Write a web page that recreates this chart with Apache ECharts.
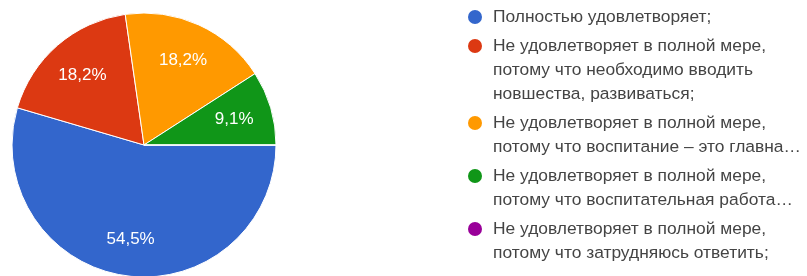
<!DOCTYPE html>
<html>
<head>
<meta charset="utf-8">
<script src="https://cdn.jsdelivr.net/npm/echarts@6/dist/echarts.min.js"></script>
<style>
  html, body { margin: 0; padding: 0; background: #fff; }
  #chart { width: 807px; height: 276px; }
</style>
</head>
<body>
<div id="chart"></div>
<script>
// ответы (строки легенды через \n)
const categories = [
    'Полностью удовлетворяет;',
    'Не удовлетворяет в полной мере,\nпотому что необходимо вводить\nновшества, развиваться;',
    'Не удовлетворяет в полной мере,\nпотому что воспитание – это главна…',
    'Не удовлетворяет в полной мере,\nпотому что воспитательная работа…',
    'Не удовлетворяет в полной мере,\nпотому что затрудняюсь ответить;'
];
const values = [6, 2, 2, 1, 0];
const colors = ['#3366cc', '#dc3912', '#ff9900', '#109618', '#990099'];

const font = 'Arial, "Liberation Sans", sans-serif';

let chart = echarts.init(document.getElementById('chart'));

let pieData = categories.map((c, i) => ({ name: c, value: values[i] }));

// rich-стили для точек легенды
let rich = {
    t: { fontSize: 17.4, lineHeight: 24, color: '#444', fontFamily: font },
    g: { width: 11, lineHeight: 24 },
    sp: { width: 25, lineHeight: 24 }
};
colors.forEach((c, i) => {
    rich['d' + i] = { width: 14, height: 14, borderRadius: 7, backgroundColor: c, lineHeight: 24 };
});

let options = {
    backgroundColor: '#fff',
    color: colors,
    tooltip: { trigger: 'item' },
    legend: {
        orient: 'vertical',
        left: 463,
        top: 5,
        height: 320,
        padding: 0,
        itemGap: 5,
        icon: 'none',
        itemWidth: 0,
        itemHeight: 14,
        data: categories,
        formatter: function (name) {
            let idx = categories.indexOf(name);
            return name.split('\n').map((line, i) => {
                return (i === 0 ? '{d' + idx + '|}{g|}' : '{sp|}') + '{t|' + line + '}';
            }).join('\n');
        },
        textStyle: { fontSize: 17.4, lineHeight: 24, fontFamily: font, rich: rich }
    },
    series: [
        {
            type: 'pie',
            center: [144, 145],
            radius: 132,
            startAngle: 0,
            clockwise: true,
            percentPrecision: 1,
            data: pieData,
            label: { show: false },
            labelLine: { show: false },
            itemStyle: { borderColor: '#fff', borderWidth: 1 },
            emphasis: { scale: false }
        },
        {
            // прозрачный слой только для подписей процентов
            type: 'pie',
            center: [144, 146],
            radius: [50, 132],
            startAngle: 0,
            clockwise: true,
            percentPrecision: 1,
            silent: true,
            tooltip: { show: false },
            data: pieData,
            itemStyle: { color: 'transparent', borderWidth: 0 },
            emphasis: { disabled: true },
            label: {
                show: true,
                position: 'inside',
                color: '#fff',
                fontSize: 17,
                fontFamily: font,
                formatter: function (p) {
                    if (!p.value) return '';
                    return String(p.percent.toFixed(1)).replace('.', ',') + '%';
                }
            },
            labelLine: { show: false }
        }
    ]
};
chart.setOption(options);

window.addEventListener('resize', () => {
    chart.resize();
});
</script>
</body>
</html>
